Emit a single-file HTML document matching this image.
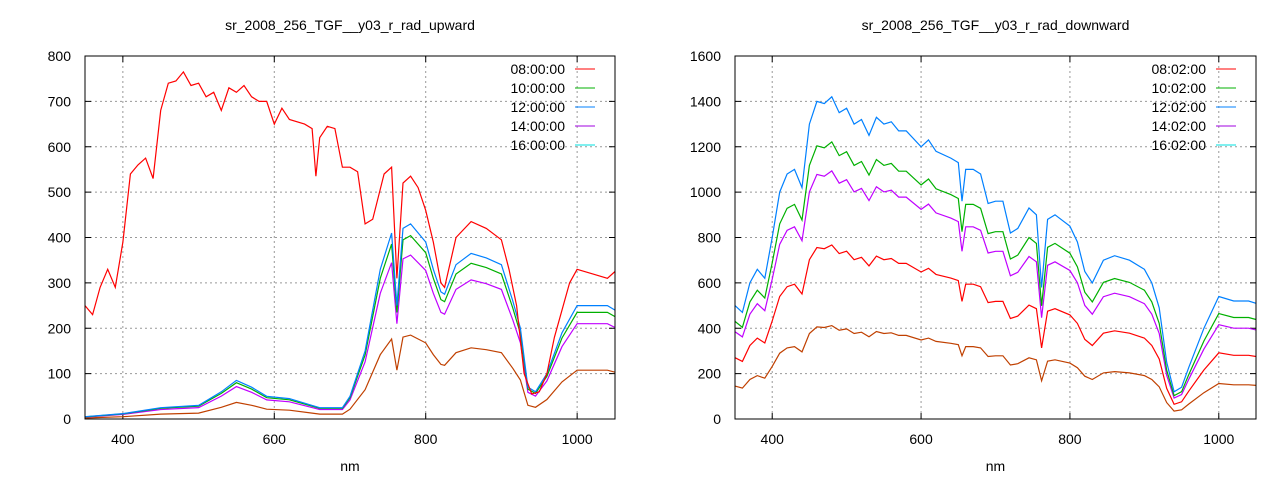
<!DOCTYPE html><html><head><style>body{margin:0;background:#fff}svg text{font-family:"Liberation Sans",sans-serif;font-size:14px;fill:#000}</style></head><body>
<svg id="s" width="1280" height="480" xmlns="http://www.w3.org/2000/svg"></svg>
<script>
const S=document.getElementById('s');let h='';
function plot(x0,x1,y0,y1,ymax,ystep,title,leg,curves){
 const X=v=>x0+(v-350)/700*(x1-x0),Y=v=>y1-v/ymax*(y1-y0);
 h+=`<text x="${(x0+x1)/2}" y="30" text-anchor="middle">${title}</text>`;
 for(let v=0;v<=ymax;v+=ystep){const y=Y(v);
  if(v>0&&v<ymax)h+=`<line x1="${x0}" x2="${x1}" y1="${y}" y2="${y}" stroke="#999" stroke-dasharray="2,3"/>`;
  h+=`<line x1="${x0}" x2="${x0+6}" y1="${y}" y2="${y}" stroke="#000"/><line x1="${x1}" x2="${x1-6}" y1="${y}" y2="${y}" stroke="#000"/>`;
  h+=`<text x="${x0-14}" y="${y+5}" text-anchor="end">${v}</text>`;}
 for(let v=400;v<=1000;v+=200){const x=X(v);
  h+=`<line x1="${x}" x2="${x}" y1="${y0}" y2="${y1}" stroke="#999" stroke-dasharray="2,3"/>`;
  h+=`<line x1="${x}" x2="${x}" y1="${y1}" y2="${y1-6}" stroke="#000"/><line x1="${x}" x2="${x}" y1="${y0}" y2="${y0+6}" stroke="#000"/>`;
  h+=`<text x="${x}" y="${y1+25}" text-anchor="middle">${v}</text>`;}
 h+=`<text x="${(x0+x1)/2}" y="471" text-anchor="middle">nm</text>`;
 const lc=['#ff0000','#00b000','#0080ff','#a000e0','#00e0e0'];
 leg.forEach((t,i)=>{const y=69+i*19;h+=`<text x="${x1-50}" y="${y+5}" text-anchor="end">${t}</text><line x1="${x1-40}" x2="${x1-20}" y1="${y}" y2="${y}" stroke="${lc[i]}"/>`;});
 curves.forEach(([pts,sc,col,mn])=>{let d='';
  for(let i=0;i<pts.length;i+=2){let v=pts[i+1]*sc;if(mn!==undefined)v=Math.max(v,mn);d+=(i?'L':'M')+X(pts[i]).toFixed(1)+','+Y(v).toFixed(1);}
  h+=`<path d="${d}" fill="none" stroke="${col}" stroke-width="1.2"/>`;});
 h+=`<rect x="${x0}" y="${y0}" width="${x1-x0}" height="${y1-y0}" fill="none" stroke="#000"/>`;
}
const R=[350,250,360,230,370,290,380,330,390,290,400,390,410,540,420,560,430,575,440,530,450,680,460,740,470,745,480,765,490,735,500,740,510,710,520,720,530,680,540,730,550,720,560,735,570,710,580,700,590,700,600,650,610,685,620,660,640,650,650,640,655,535,660,620,670,645,680,640,690,555,700,555,710,545,720,430,730,440,745,540,755,555,762,310,770,520,780,535,790,510,800,460,810,390,820,300,825,290,840,400,860,435,880,420,900,395,910,330,920,250,930,100,940,55,950,60,960,100,970,180,990,300,1000,330,1020,320,1040,310,1050,325];
const B=[350,5,400,12,450,25,500,30,530,60,550,85,570,70,590,50,620,45,650,30,660,25,690,25,700,50,720,150,740,330,755,410,762,250,770,420,780,430,800,390,810,330,820,280,825,275,840,340,860,365,880,355,900,340,915,260,925,200,935,70,945,60,960,100,980,190,1000,250,1020,250,1040,250,1050,240];
plot(85,615,56,419,800,100,'sr_2008_256_TGF__y03_r_rad_upward',['08:00:00','10:00:00','12:00:00','14:00:00','16:00:00'],
 [[B,0.43,'#c04000',2],[B,0.84,'#c000ff',2],[B,0.94,'#00b000',3],[B,1,'#0080ff'],[R,1,'#ff0000']]);
const D=[350,500,360,470,370,600,380,660,390,620,400,800,410,1000,420,1080,430,1100,440,1020,450,1300,460,1400,470,1390,480,1420,490,1350,500,1370,510,1300,520,1320,530,1250,540,1330,550,1300,560,1310,570,1270,580,1270,600,1200,610,1230,620,1180,640,1150,650,1130,655,960,660,1100,670,1100,680,1080,690,950,700,960,710,960,720,820,730,840,745,930,755,900,762,580,770,880,780,900,800,850,810,780,820,650,830,600,845,700,860,720,880,700,900,660,910,600,920,490,930,250,940,120,950,140,960,230,980,400,1000,540,1020,520,1040,520,1050,510];
plot(735,1256,56,419,1600,200,'sr_2008_256_TGF__y03_r_rad_downward',['08:02:00','10:02:00','12:02:00','14:02:00','16:02:00'],
 [[D,0.29,'#c04000',25],[D,0.54,'#ff0000'],[D,0.77,'#c000ff'],[D,0.86,'#00b000'],[D,1,'#0080ff']]);
S.innerHTML=h;
</script></body></html>
